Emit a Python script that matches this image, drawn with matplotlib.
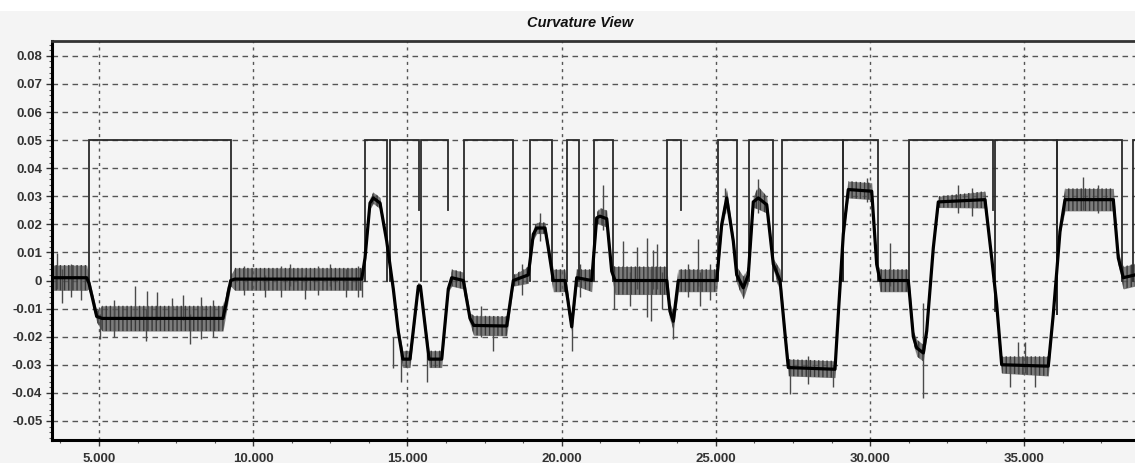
import numpy as np
import matplotlib
matplotlib.use("Agg")
import matplotlib.pyplot as plt
from matplotlib.patches import Rectangle
from matplotlib.ticker import FixedLocator, MultipleLocator, FuncFormatter

# ---------------- data ----------------
# smoothed curvature (black line): breakpoints
curve_x = [3476, 4601, 4676, 4925, 5100, 9020, 9270, 9400, 13517, 13624,
           13786, 13893, 14110, 14327, 14541, 14700, 14850, 15083, 15352, 15420,
           15700, 16110, 16324, 16435, 16811, 17028, 17150, 18218, 18432, 18918,
           19080, 19190, 19459, 19566, 19728, 20108, 20325, 20487, 20973, 21135,
           21242, 21460, 21622, 21729, 23405, 23512, 23619, 23781, 25026, 25188,
           25350, 25564, 25674, 25888, 26050, 26212, 26375, 26647, 26861, 27078,
           27240, 27347, 28861, 28968, 29130, 29292, 30051, 30213, 30320, 31238,
           31400, 31510, 31724, 31834, 32048, 32210, 33724, 33941, 34103, 34265,
           35776, 35938, 36156, 36318, 37884, 38046, 38208, 38587]
curve_y = [0.001, 0.001, -0.001, -0.0128, -0.0135, -0.0135, 0.0, 0.0005, 0.0005, 0.008,
           0.0276, 0.0294, 0.0276, 0.014, -0.003, -0.018, -0.028, -0.028, -0.002, -0.002,
           -0.028, -0.028, -0.003, 0.001, 0.0, -0.0135, -0.016, -0.0162, 0.0, 0.002,
           0.0165, 0.0187, 0.0187, 0.0116, 0.0, 0.0, -0.0165, 0.001, 0.0, 0.0223,
           0.0229, 0.022, 0.0033, 0.0, 0.0, -0.011, -0.0145, 0.0, 0.0, 0.020,
           0.0294, 0.014, 0.002, -0.0026, 0.002, 0.028, 0.0294, 0.027, 0.0058, 0.0,
           -0.019, -0.031, -0.0316, -0.012, 0.0165, 0.0324, 0.0318, 0.0057, 0.0, 0.0,
           -0.020, -0.024, -0.0258, -0.018, 0.0116, 0.028, 0.0288, 0.008, -0.0085, -0.030,
           -0.0305, -0.012, 0.0175, 0.0288, 0.0288, 0.008, 0.001, 0.002]
# half-width of the raw (noisy) signal band around the smoothed curve
noise_amp = [0.0045, 0.0045, 0.002, 0.002, 0.0045, 0.0045, 0.002, 0.004, 0.004, 0.001,
             0.002, 0.002, 0.002, 0.001, 0.001, 0.002, 0.003, 0.003, 0.001, 0.001,
             0.003, 0.003, 0.001, 0.003, 0.003, 0.002, 0.0035, 0.0035, 0.002, 0.003,
             0.002, 0.002, 0.002, 0.002, 0.004, 0.004, 0.002, 0.003, 0.004, 0.002,
             0.003, 0.003, 0.002, 0.005, 0.005, 0.003, 0.003, 0.004, 0.004, 0.002,
             0.003, 0.002, 0.003, 0.004, 0.003, 0.002, 0.004, 0.003, 0.002, 0.004,
             0.002, 0.003, 0.003, 0.001, 0.001, 0.003, 0.003, 0.001, 0.004, 0.004,
             0.002, 0.003, 0.003, 0.002, 0.001, 0.002, 0.003, 0.001, 0.001, 0.003,
             0.0035, 0.001, 0.001, 0.004, 0.004, 0.002, 0.004, 0.004]
# tall spikes of the raw signal (bottom, top)
spike_x = [3638, 3800, 4100, 4400, 5032, 5500, 6167, 6524, 6546, 6870,
           7357, 7733, 7950, 8300, 8700, 9700, 10382, 10900, 11192, 11678,
           12100, 12489, 13000, 13400, 13517, 14541, 14791, 15634, 17400, 17774,
           18700, 19297, 20335, 20600, 21340, 21700, 21998, 22200, 22450, 22750,
           22880, 22960, 23100, 23250, 23619, 24100, 24430, 24500, 24800, 25300,
           26375, 27402, 28000, 28796, 29890, 30645, 31713, 32858, 33300, 34534,
           34793, 35021, 35345, 36911, 37400]
spike_lo = [-0.003, -0.008, -0.006, -0.007, -0.021, -0.020, -0.014, -0.0216, -0.012, -0.014,
            -0.014, -0.014, -0.0226, -0.021, -0.020, -0.005, -0.006, -0.006, -0.002, -0.0065,
            -0.005, -0.002, -0.006, -0.006, -0.006, -0.031, -0.036, -0.036, -0.020, -0.025,
            -0.005, 0.014, -0.025, -0.006, 0.018, -0.010, -0.003, -0.009, -0.003, -0.013,
            -0.0145, -0.003, -0.003, -0.010, -0.021, -0.006, -0.002, -0.009, -0.007, 0.024,
            0.024, -0.0405, -0.037, -0.038, 0.028, -0.002, -0.042, 0.024, 0.023, -0.038,
            -0.033, -0.033, -0.038, 0.025, 0.024]
spike_hi = [0.0097, 0.004, 0.006, 0.005, -0.012, -0.007, -0.002, -0.010, -0.0038, -0.004,
            -0.0062, -0.005, -0.012, -0.006, -0.007, 0.005, 0.002, 0.005, 0.0058, 0.002,
            0.005, 0.0058, 0.004, 0.005, 0.002, -0.020, -0.026, -0.026, -0.009, -0.014,
            0.006, 0.024, -0.012, 0.006, 0.034, 0.003, 0.014, 0.003, 0.012, 0.015,
            0.004, 0.011, 0.013, 0.003, -0.010, 0.006, 0.0147, 0.003, 0.006, 0.033,
            0.036, -0.030, -0.027, -0.030, 0.0365, 0.0134, -0.008, 0.034, 0.033, -0.028,
            -0.022, -0.022, -0.028, 0.037, 0.034]
# segment indicator (square pulses at 0.05)
seg_start = [4676, 13624, 14434, 15439, 16843, 18989, 20182, 21048, 23424, 25078,
             26073, 27133, 29111, 31270, 34050, 36049, 38522]
seg_end = [9270, 14347, 15374, 16324, 18412, 19696, 20571, 21654, 23859, 25674,
           26861, 29111, 30265, 33993, 36049, 38156, 38700]
seg_lo_start = [0.0, 0.0, 0.0, 0.0, 0.0, 0.0, 0.0, 0.0, 0.0, 0.0,
                0.0, 0.0, 0.0, 0.0, -0.011, -0.012, 0.0]
seg_lo_end = [0.0, 0.0, 0.025, 0.025, 0.0, 0.0, 0.0, 0.0, 0.025, 0.0,
              0.0, 0.0, 0.0, 0.025, -0.012, 0.0, 0.0]
seg_level = 0.05

y_ticks = [0.08, 0.07, 0.06, 0.05, 0.04, 0.03, 0.02, 0.01, 0.0,
           -0.01, -0.02, -0.03, -0.04, -0.05]
x_ticks = [5000, 10000, 15000, 20000, 25000, 30000, 35000]
title = "Curvature View"

# ---------------- figure ----------------
W, H = 1135, 463
fig = plt.figure(figsize=(W / 100, H / 100), dpi=100)
bg = "#f4f4f4"
fig.patch.set_facecolor(bg)
fig.patches.append(Rectangle((0, 1 - 11 / H), 1, 11 / H, transform=fig.transFigure,
                             facecolor="white", edgecolor="none", zorder=0))

ax = fig.add_axes([52 / W, (H - 440) / H, 1 - 52 / W, (440 - 41) / H])
ax.set_facecolor(bg)
ax.set_xlim(3476, 38587)
ax.set_ylim(-0.0568, 0.0853)

# grid
for yv in y_ticks:
    ax.axhline(yv, color="#555555", lw=1.0, ls=(0, (4, 3.2)), zorder=1)
for xv in x_ticks:
    ax.axvline(xv, color="#555555", lw=1.0, ls=(0, (2.2, 3)), zorder=1)

# raw noisy signal: band (textured) + spikes
cx = np.array(curve_x, dtype=float)
cy = np.array(curve_y)
na = np.array(noise_amp)
plt.rcParams["hatch.linewidth"] = 1.0
ax.fill_between(cx, cy - na, cy + na, color="#5e5e5e", lw=0, alpha=0.8, zorder=2)
ax.fill_between(cx, cy - na, cy + na, facecolor="none", edgecolor="#383838",
                hatch="||||", lw=0, zorder=2)
ax.vlines(spike_x, spike_lo, spike_hi, color="#4a4a4a", lw=1.0, zorder=3)

# segment pulses
for xs, xe, ls_, le_ in zip(seg_start, seg_end, seg_lo_start, seg_lo_end):
    ax.plot([xs, xs, xe, xe], [ls_, seg_level, seg_level, le_],
            color="#2a2a2a", lw=1.3, zorder=4, solid_joinstyle="miter")

# smoothed curve
ax.plot(cx, cy, color="black", lw=2.3, zorder=5)

# axes styling
for side in ["left", "bottom"]:
    ax.spines[side].set_linewidth(2.2)
    ax.spines[side].set_color("black")
ax.spines["top"].set_linewidth(2.0)
ax.spines["top"].set_color("#333333")
ax.spines["right"].set_visible(False)

ax.yaxis.set_major_locator(FixedLocator(y_ticks))
ax.yaxis.set_minor_locator(MultipleLocator(0.002))
ax.xaxis.set_major_locator(FixedLocator(x_ticks))
ax.xaxis.set_minor_locator(MultipleLocator(1250))

def yfmt(v, pos):
    if abs(v) < 1e-9:
        return "0"
    return f"{v:.2f}"

def xfmt(v, pos):
    return f"{int(round(v)):,}".replace(",", ".")

ax.yaxis.set_major_formatter(FuncFormatter(yfmt))
ax.xaxis.set_major_formatter(FuncFormatter(xfmt))
ax.tick_params(axis="both", which="major", direction="out", length=4, width=1,
               color="#333333", labelcolor="#333333", pad=3)
ax.tick_params(axis="y", which="major", labelsize=9.5)
ax.tick_params(axis="x", which="major", labelsize=9.5, pad=5)
ax.tick_params(axis="both", which="minor", direction="out", length=2.5, width=0.8,
               color="#555555")
for lab in ax.get_xticklabels() + ax.get_yticklabels():
    lab.set_fontfamily("Liberation Sans")
    lab.set_fontweight("bold")

fig.text(580 / W, 1 - 23 / H, title, ha="center", va="center", fontsize=10.5,
         fontweight="bold", fontstyle="italic", family="Liberation Sans", color="#111111")

fig.savefig("out.png", dpi=100, facecolor=fig.get_facecolor())
